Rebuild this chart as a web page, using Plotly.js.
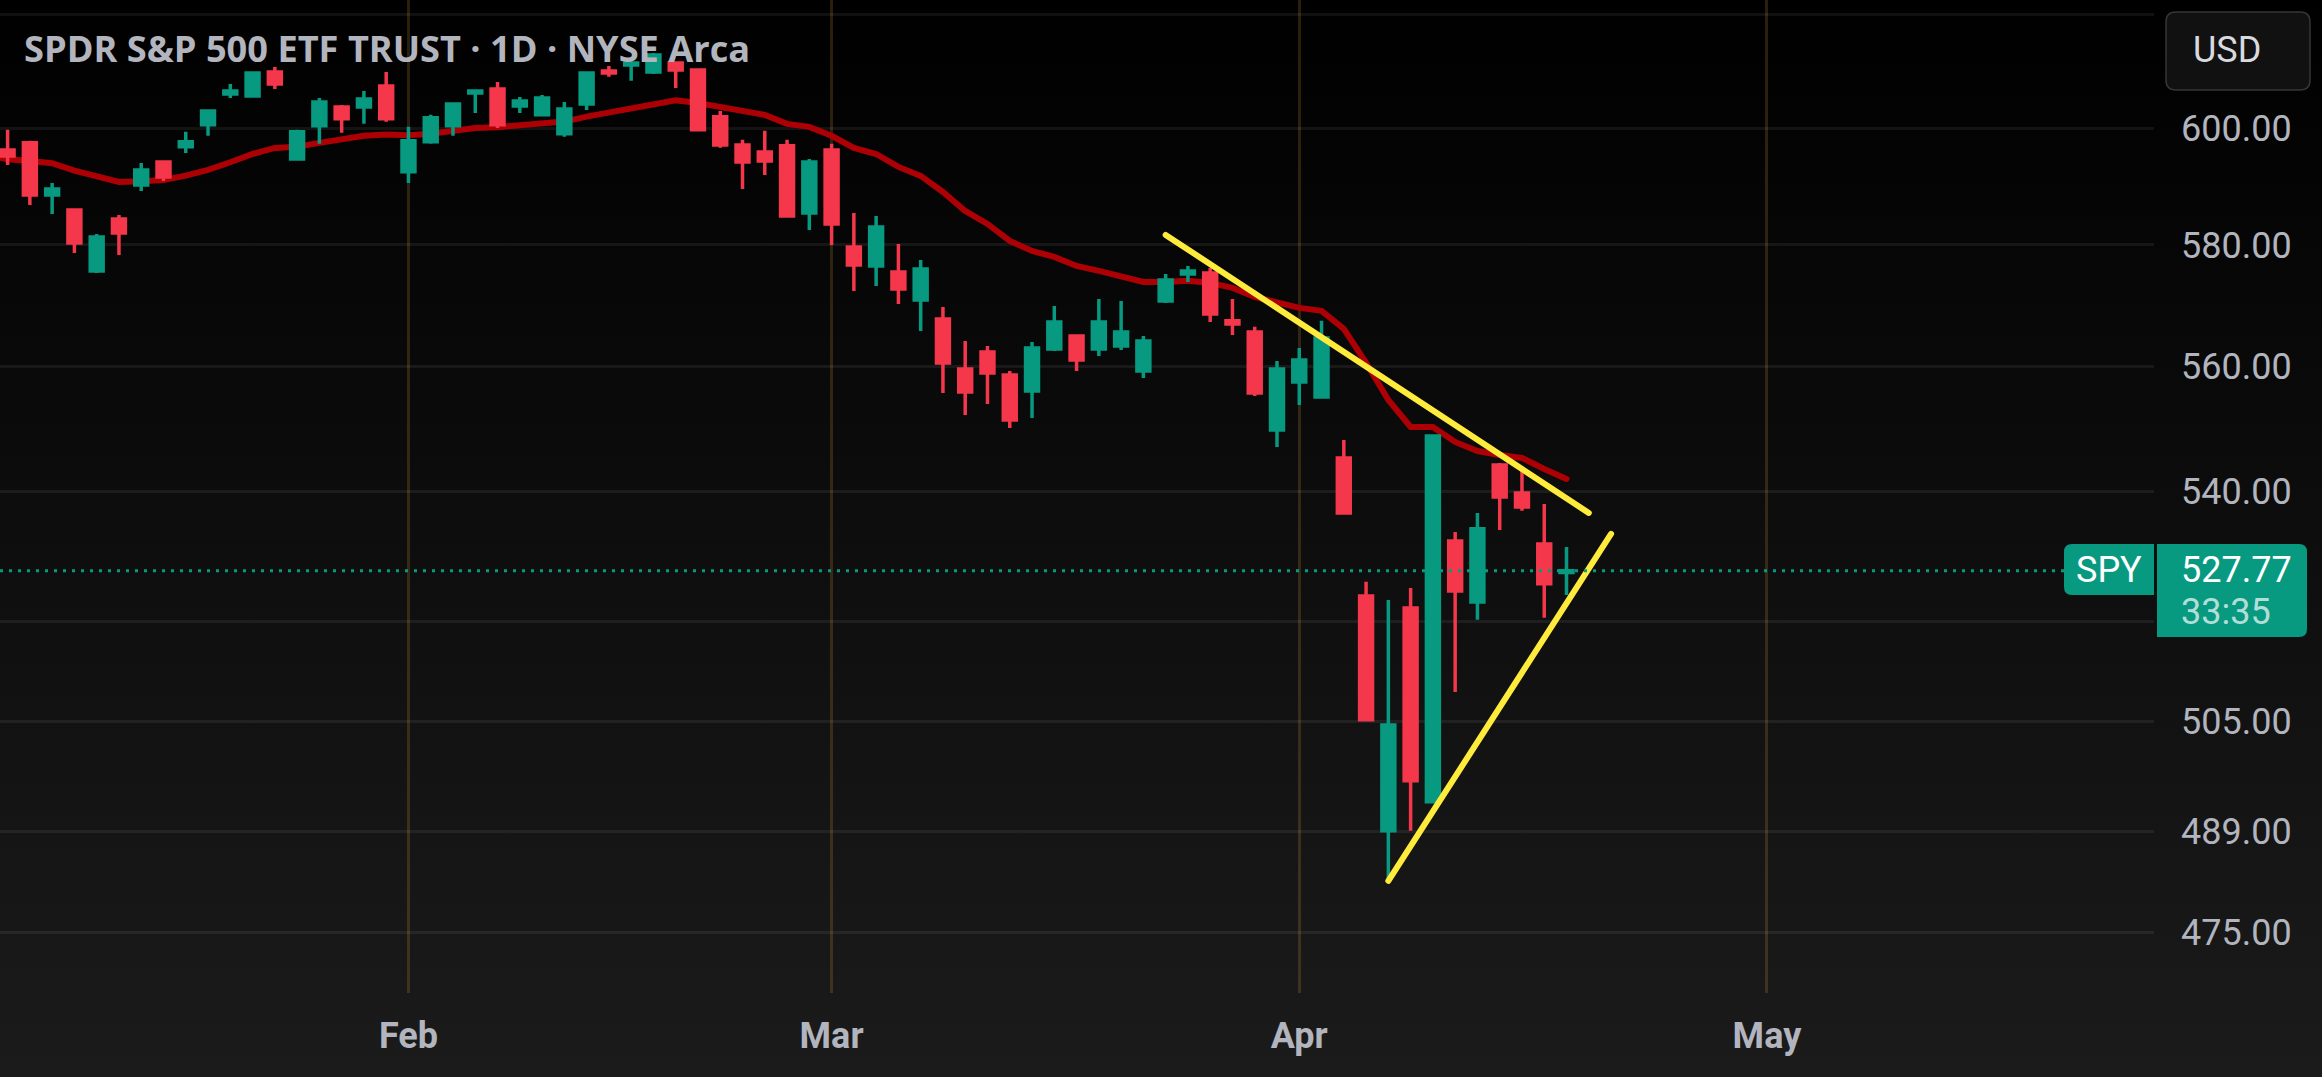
<!DOCTYPE html>
<html>
<head>
<meta charset="utf-8">
<title>SPY 1D</title>
<script src="https://cdn.plot.ly/plotly-3.0.1.min.js"></script>
<style>
   html, body { margin: 0; padding: 0; width: 2322px; height: 1077px; overflow: hidden;
      background: linear-gradient(#000000, #1b1b1b); }
   .js-line { stroke-linecap: round; }
</style>
</head>
<body>
<div id="chart"></div>
<script>
const sessions = [
   '2025-01-03','2025-01-06','2025-01-07','2025-01-08','2025-01-10','2025-01-13','2025-01-14','2025-01-15','2025-01-16','2025-01-17',
   '2025-01-21','2025-01-22','2025-01-23','2025-01-24','2025-01-27','2025-01-28','2025-01-29','2025-01-30','2025-01-31',
   '2025-02-03','2025-02-04','2025-02-05','2025-02-06','2025-02-07','2025-02-10','2025-02-11','2025-02-12','2025-02-13','2025-02-14',
   '2025-02-18','2025-02-19','2025-02-20','2025-02-21','2025-02-24','2025-02-25','2025-02-26','2025-02-27','2025-02-28',
   '2025-03-03','2025-03-04','2025-03-05','2025-03-06','2025-03-07','2025-03-10','2025-03-11','2025-03-12','2025-03-13','2025-03-14',
   '2025-03-17','2025-03-18','2025-03-19','2025-03-20','2025-03-21','2025-03-24','2025-03-25','2025-03-26','2025-03-27','2025-03-28','2025-03-31',
   '2025-04-01','2025-04-02','2025-04-03','2025-04-04','2025-04-07','2025-04-08','2025-04-09','2025-04-10','2025-04-11',
   '2025-04-14','2025-04-15','2025-04-16','2025-04-17'
];
const futureSessions = ['2025-04-21','2025-04-22','2025-04-23','2025-04-24','2025-04-25','2025-04-28','2025-04-29','2025-04-30','2025-05-01'];

const opens = [null,
   596.19,597.42,588.47,585.92,575.66,584.40,590.19,594.13,596.73,600.55,605.95,605.59,609.83,594.65,600.38,603.67,603.67,607.36,
   592.42,597.60,600.38,606.13,606.83,603.85,602.29,598.99,604.20,610.01,611.07,609.83,611.42,610.19,601.94,597.07,595.85,596.90,585.41,
   596.19,579.67,576.49,575.49,570.83,567.71,559.54,562.30,558.57,555.98,562.78,564.92,562.78,563.28,559.22,570.67,575.16,575.33,567.39,565.57,549.74,
   557.44,555.00,545.29,523.92,489.44,522.10,493.57,532.34,523.01,544.19,539.79,531.87,527.50];
const highs = [null,
   599.68,597.77,590.53,585.92,581.86,585.08,593.96,594.30,599.33,602.98,607.72,609.66,610.72,599.68,605.24,604.02,606.48,609.83,
   600.20,602.29,604.37,606.48,608.07,605.42,605.77,604.54,609.83,610.89,611.42,613.19,611.60,610.19,602.98,597.95,599.51,597.95,594.65,
   597.25,585.41,584.91,580.17,577.49,569.68,564.10,563.28,559.22,563.93,569.84,565.08,571.00,570.67,564.92,575.16,576.49,576.16,571.00,566.40,560.84,
   562.95,567.39,548.14,526.06,523.31,525.14,548.76,533.73,536.67,544.51,543.72,538.07,531.41];
const lows = [null,
   593.62,586.77,585.24,578.66,575.33,578.33,589.16,590.87,595.68,598.64,605.24,605.42,606.83,594.65,597.25,599.16,600.72,601.07,
   590.53,597.25,598.64,602.63,600.00,602.63,602.29,598.46,603.15,608.96,608.25,609.48,607.01,599.50,596.56,589.50,591.90,584.73,582.54,
   580.00,572.33,573.16,570.17,565.74,555.65,552.13,553.88,550.06,551.65,562.46,559.22,561.65,562.62,558.08,570.33,573.83,567.22,565.08,555.17,547.02,
   553.72,554.84,536.50,505.29,482.54,489.44,493.42,509.55,520.30,534.04,536.99,520.60,524.07];
const closes = [null,
   595.16,588.47,589.50,580.34,581.36,582.03,592.76,591.56,597.60,602.98,606.48,609.66,607.72,599.33,604.54,601.59,605.07,601.59,
   597.77,601.77,604.20,606.48,600.55,604.72,605.24,603.33,609.66,609.66,611.42,612.84,610.19,599.68,597.07,594.13,594.30,584.91,594.13,
   583.55,576.66,583.05,572.66,575.99,560.51,555.81,558.89,551.33,562.95,567.22,561.00,567.22,565.57,564.10,574.16,575.66,568.53,566.89,555.65,559.54,
   561.00,564.59,536.67,505.44,504.70,496.59,548.76,524.68,534.20,539.16,537.60,525.75,527.77];

// moving average
const movingAvg = [595.33,
   594.59,594.30,593.91,592.64,591.61,590.70,590.82,591.04,591.78,592.76,594.08,595.50,596.54,596.76,597.42,597.95,598.64,598.87,
   598.76,598.99,599.56,600.00,600.15,600.55,600.95,601.12,601.99,602.69,603.45,604.32,604.84,604.37,603.67,602.93,602.29,600.72,600.20,
   598.64,596.54,595.50,593.27,591.73,588.98,585.75,583.55,580.68,578.99,578.00,576.49,575.66,574.66,573.83,573.83,574.00,573.66,572.83,571.33,570.33,
   569.52,569.03,566.07,560.51,554.52,550.21,550.21,547.83,546.39,545.76,545.29,543.56,541.99];

const upperTrendDates = ['2025-03-24', '2025-04-21'];
const upperTrendPrices = [581.70, 536.67];
const lowerTrendDates = ['2025-04-07', '2025-04-22'];
const lowerTrendPrices = [482.40, 533.42];

const lastPrice = 527.77;
const countdown = '33:35';
const chartTitle = 'SPDR S&P 500 ETF TRUST · 1D · NYSE Arca';

// the log scale grid sits a little off the rounded labels at the low end
const priceTicks = [475.25, 489.4, 505.2, 520, 540, 560, 580, 600, 620];
const priceTickLabels = ['475.00', '489.00', '505.00', '', '540.00', '560.00', '580.00', '600.00', ''];
const monthTicks = ['2025-02-03', '2025-03-03', '2025-04-01', '2025-05-01'];
const monthLabels = ['Feb', 'Mar', 'Apr', 'May'];

const UP = '#089981';
const DOWN = '#f5374b';
const MA_COLOR = '#ad0005';
const TREND_COLOR = '#ffeb3b';
const LABEL_COLOR = '#b2b5be';
const FONT = 'Roboto, sans-serif';

const W = 2322, H = 1077, PLOT_R = 2154, PLOT_B = 993;

// page pixels to paper coordinates, so the labels outside the plot can sit where they belong
const px = x => x / PLOT_R;
const py = y => 1 - y / PLOT_B;

function roundedBox(x0, y0, x1, y1, radii, fill, border) {
   const [tl, tr, br, bl] = radii;
   const path = [
      `M ${px(x0 + tl)} ${py(y0)}`, `L ${px(x1 - tr)} ${py(y0)}`, `Q ${px(x1)} ${py(y0)} ${px(x1)} ${py(y0 + tr)}`,
      `L ${px(x1)} ${py(y1 - br)}`, `Q ${px(x1)} ${py(y1)} ${px(x1 - br)} ${py(y1)}`,
      `L ${px(x0 + bl)} ${py(y1)}`, `Q ${px(x0)} ${py(y1)} ${px(x0)} ${py(y1 - bl)}`,
      `L ${px(x0)} ${py(y0 + tl)}`, `Q ${px(x0)} ${py(y0)} ${px(x0 + tl)} ${py(y0)}`, 'Z'
   ].join(' ');
   return {
      type: 'path', xref: 'paper', yref: 'paper', path: path, layer: 'above',
      fillcolor: fill, line: { color: border || fill, width: border ? 1.5 : 0 }
   };
}

function label(text, x, y, size, color, weight, family) {
   return {
      text: text, xref: 'paper', yref: 'paper', x: px(x), y: py(y), xanchor: 'left', yanchor: 'middle',
      showarrow: false, borderpad: 0, borderwidth: 0,
      font: { family: family || FONT, size: size, color: color, weight: weight || 400 }
   };
}

const traces = [
   {
      type: 'scatter', mode: 'lines', x: sessions, y: movingAvg, zorder: 0, hoverinfo: 'skip',
      line: { color: MA_COLOR, width: 6 }
   },
   {
      type: 'candlestick', x: sessions, open: opens, high: highs, low: lows, close: closes, zorder: 1,
      whiskerwidth: 0, hoverinfo: 'skip',
      increasing: { line: { color: UP, width: 3.5 }, fillcolor: UP },
      decreasing: { line: { color: DOWN, width: 3.5 }, fillcolor: DOWN }
   },
   {
      type: 'scatter', mode: 'lines', x: upperTrendDates, y: upperTrendPrices, zorder: 2, hoverinfo: 'skip',
      line: { color: TREND_COLOR, width: 6 }
   },
   {
      type: 'scatter', mode: 'lines', x: lowerTrendDates, y: lowerTrendPrices, zorder: 2, hoverinfo: 'skip',
      line: { color: TREND_COLOR, width: 6 }
   }
];

const layout = {
   width: W, height: H,
   margin: { l: 0, r: W - PLOT_R, t: 0, b: H - PLOT_B, pad: 0 },
   paper_bgcolor: 'rgba(0,0,0,0)',
   plot_bgcolor: 'rgba(0,0,0,0)',
   showlegend: false,
   boxgap: 0.17,
   font: { family: FONT, color: LABEL_COLOR },
   xaxis: {
      type: 'category', categoryorder: 'array', categoryarray: sessions.concat(futureSessions),
      range: [0.659, 97.38], rangeslider: { visible: false }, fixedrange: true,
      tickmode: 'array', tickvals: monthTicks, ticktext: monthLabels, tickangle: 0,
      ticks: '', ticklabelstandoff: 18,
      tickfont: { family: FONT, size: 36, color: LABEL_COLOR, weight: 700 },
      showgrid: true, gridcolor: 'rgba(255,178,60,0.17)', gridwidth: 3,
      zeroline: false, showline: false
   },
   yaxis: {
      type: 'log', side: 'right', range: [2.66929, 2.79426], fixedrange: true,
      tickmode: 'array', tickvals: priceTicks, ticktext: priceTickLabels,
      ticks: '', ticklabelstandoff: 26,
      tickfont: { family: FONT, size: 36, color: LABEL_COLOR },
      showgrid: true, gridcolor: 'rgba(240,243,250,0.07)', gridwidth: 3,
      zeroline: false, showline: false
   },
   shapes: [
      {
         type: 'line', xref: 'paper', yref: 'y', x0: 0, x1: px(2064), y0: lastPrice, y1: lastPrice, layer: 'above',
         line: { color: UP, width: 3, dash: '3px,6px' }
      },
      roundedBox(2166, 12, 2310, 90, [10, 10, 10, 10], '#111111', '#363636'),
      roundedBox(2064, 544, 2154, 595, [8, 0, 0, 8], UP),
      roundedBox(2157, 544, 2307, 637, [0, 8, 8, 0], UP)
   ],
   annotations: [
      label(chartTitle, 24, 48, 36.2, LABEL_COLOR, 700, '"Open Sans", sans-serif'),
      label('USD', 2193, 50, 36, '#d8dadf'),
      label('SPY', 2076, 570, 36, '#ffffff'),
      label(lastPrice.toFixed(2), 2181, 570, 36, '#ffffff'),
      label(countdown, 2181, 612, 36, 'rgba(255,255,255,0.7)')
   ]
};

Plotly.newPlot('chart', traces, layout, { displayModeBar: false, staticPlot: true });
</script>
</body>
</html>
